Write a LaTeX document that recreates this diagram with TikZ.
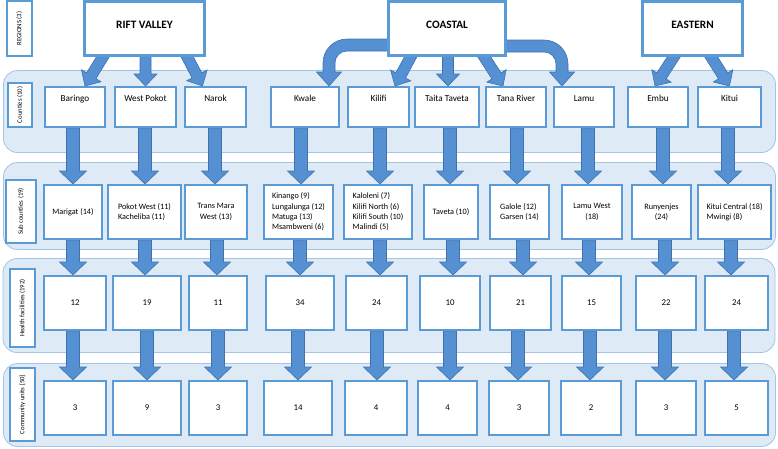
\documentclass[tikz,border=0pt]{standalone}
\usepackage{fontspec}
\setmainfont{Carlito}
\usetikzlibrary{calc}
\pgfdeclarelayer{bg}
\pgfdeclarelayer{mid}
\pgfsetlayers{bg,mid,main}
\definecolor{boxblue}{HTML}{5B9BD5}
\definecolor{arrfill}{HTML}{5590D2}
\definecolor{arredge}{HTML}{3F73AE}
\definecolor{bandfill}{HTML}{DEEBF7}
\definecolor{bandedge}{HTML}{A3C4E6}
\tikzset{
  band/.style={draw=bandedge, fill=bandfill, line width=0.8pt, rounded corners=14pt, minimum width=772pt, inner sep=0pt},
  regbox/.style={draw=boxblue, line width=3pt, fill=white, font=\fontsize{11.3}{13}\selectfont\bfseries, text height=7.5pt, text depth=8.3pt, inner sep=0pt, minimum height=54pt},
  county/.style={draw=boxblue, line width=2pt, fill=white, font=\fontsize{9.2}{11}\selectfont, text height=7pt, text depth=17.6pt, inner sep=0pt, minimum height=40pt},
  subbox/.style={draw=boxblue, line width=2pt, fill=white, font=\fontsize{8.2}{10.3}\selectfont, inner sep=0pt, minimum height=54pt},
  numbox/.style={draw=boxblue, line width=2pt, fill=white, font=\fontsize{8.8}{10}\selectfont, inner sep=0pt, minimum height=54pt},
  lbl/.style={draw=boxblue, line width=2pt, fill=white, rotate=90, font=\fontsize{6.7}{8}\selectfont, inner sep=0pt},
  blockarr/.style={fill=arrfill, draw=arredge, line width=0.6pt, line join=miter},
}
% straight block arrow between two named coordinates
\newcommand\barrow[5]{%
  \coordinate (hb) at ($(#2)!#5!(#1)$);
  \begin{pgfonlayer}{mid}
  \path[blockarr] ($(#1)!#3!90:(#2)$) -- ($(hb)!#3!90:(#2)$) -- ($(hb)!#4!90:(#2)$) -- (#2)
     -- ($(hb)!#4!-90:(#2)$) -- ($(hb)!#3!-90:(#2)$) -- ($(#1)!#3!-90:(#2)$) -- cycle;
  \end{pgfonlayer}}
% region arrow: start spec, end spec
\newcommand\rarr[2]{%
  \coordinate (as) at (#1);
  \coordinate (ae) at (#2);
  \barrow{as}{ae}{5.5pt}{11.5pt}{12pt}}
% vertical arrow: dx, from node, to node
\newcommand\varr[3]{%
  \coordinate (ae) at ($(#3.north)+(#1,0)$);
  \coordinate (as) at (#2.south -| ae);
  \barrow{as}{ae}{6.5pt}{13.5pt}{13pt}}
% curved arrows
\newcommand\curvL[2]{%
  \begin{pgfonlayer}{mid}
  \path[blockarr] let \p1=(#1), \p2=(#2) in
    (\x1,\y1+6pt) -- (\x2+18pt,\y1+6pt)
    .. controls (\x2+4.75pt,\y1+6pt) and (\x2-6pt,\y1-4.75pt) .. (\x2-6pt,\y1-18pt)
    -- (\x2-6pt,\y2+14pt) -- (\x2-12.5pt,\y2+14pt) -- (\x2,\y2) -- (\x2+12.5pt,\y2+14pt) -- (\x2+6pt,\y2+14pt)
    -- (\x2+6pt,\y1-18pt) .. controls (\x2+6pt,\y1-11.37pt) and (\x2+11.37pt,\y1-6pt) .. (\x2+18pt,\y1-6pt)
    -- (\x1,\y1-6pt) -- cycle;
  \end{pgfonlayer}}
\newcommand\curvR[2]{%
  \begin{pgfonlayer}{mid}
  \path[blockarr] let \p1=(#1), \p2=(#2) in
    (\x1,\y1+6pt) -- (\x2-18pt,\y1+6pt)
    .. controls (\x2-4.75pt,\y1+6pt) and (\x2+6pt,\y1-4.75pt) .. (\x2+6pt,\y1-18pt)
    -- (\x2+6pt,\y2+14pt) -- (\x2+12.5pt,\y2+14pt) -- (\x2,\y2) -- (\x2-12.5pt,\y2+14pt) -- (\x2-6pt,\y2+14pt)
    -- (\x2-6pt,\y1-18pt) .. controls (\x2-6pt,\y1-11.37pt) and (\x2-11.37pt,\y1-6pt) .. (\x2-18pt,\y1-6pt)
    -- (\x1,\y1-6pt) -- cycle;
  \end{pgfonlayer}}
\begin{document}
\begin{tikzpicture}[x=1pt,y=-1pt]
\useasboundingbox (0,0) rectangle (778,448);
% bands
\begin{pgfonlayer}{bg}
\node[band, minimum height=82pt] (bandC) at (389.5,111.5) {};
\node[band, minimum height=87pt] (bandS) at (389.5,206) {};
\node[band, minimum height=94pt] (bandH) at (389,305.5) {};
\node[band, minimum height=83pt] (bandU) at (389.5,405) {};
\end{pgfonlayer}
% row labels
\node[lbl, minimum width=55pt, minimum height=25pt] (lR) at (19.5,28.5) {REGIONS (3)};
\node[lbl, minimum width=44pt, minimum height=24pt] (lC) at (20,105) {Counties (10)};
\node[lbl, minimum width=63pt, minimum height=30pt] (lS) at (21,211.5) {Sub counties (19)};
\node[lbl, minimum width=78pt, minimum height=25pt] (lH) at (22.5,308) {Health facilities (192)};
\node[lbl, minimum width=73pt, minimum height=25pt] (lU) at (22.5,404.5) {Community units [50]};
% regions
\node[regbox, minimum width=120pt] (rift) at (144.5,28.5) {RIFT VALLEY};
\node[regbox, minimum width=117pt] (coastal) at (447,28.5) {COASTAL};
\node[regbox, minimum width=100pt] (eastern) at (692.5,28.5) {EASTERN};
% counties
\node[county, minimum width=60pt] (baringo) at (75,107) {Baringo};
\node[county, minimum width=61pt] (westpokot) at (145.5,107) {West Pokot};
\node[county, minimum width=61pt] (narok) at (215.5,107) {Narok};
\node[county, minimum width=68pt] (kwale) at (305,107) {Kwale};
\node[county, minimum width=61pt] (kilifi) at (378.5,107) {Kilifi};
\node[county, minimum width=64pt] (taita) at (447,107) {Taita Taveta};
\node[county, minimum width=60pt] (tana) at (516,107) {Tana River};
\node[county, minimum width=60pt] (lamu) at (584,107) {Lamu};
\node[county, minimum width=60pt] (embu) at (658,107) {Embu};
\node[county, minimum width=63pt] (kitui) at (729.5,107) {Kitui};
% sub counties
\node[subbox, minimum width=58pt] (marigat) at (73,212) {Marigat (14)};
\node[subbox, minimum width=73pt, align=left] (pokotw) at (144.5,212) {Pokot West (11)\\Kacheliba (11)};
\node[subbox, minimum width=62pt, align=center] (transmara) at (216,212) {Trans Mara\\West (13)};
\node[subbox, minimum width=69pt, align=left] (kinango) at (298.5,212) {Kinango (9)\\Lungalunga (12)\\Matuga (13)\\Msambweni (6)};
\node[subbox, minimum width=68pt, align=left] (kaloleni) at (378,212) {Kaloleni (7)\\Kilifi North (6)\\Kilifi South (10)\\Malindi (5)};
\node[subbox, minimum width=54pt] (taveta) at (451,212) {Taveta (10)};
\node[subbox, minimum width=59pt, align=left] (galole) at (519.5,212) {Galole (12)\\Garsen (14)};
\node[subbox, minimum width=60pt, align=center] (lamuw) at (592,212) {Lamu West\\(18)};
\node[subbox, minimum width=59pt, align=center] (runyenjes) at (661.5,212) {Runyenjes\\(24)};
\node[subbox, minimum width=73pt, align=left] (kituic) at (734.5,212) {Kitui Central (18)\\Mwingi (8)};
% health facilities
\node[numbox, minimum width=62pt] (h1) at (75,303) {12};
\node[numbox, minimum width=68pt] (h2) at (147,303) {19};
\node[numbox, minimum width=58pt] (h3) at (218,303) {11};
\node[numbox, minimum width=68pt] (h4) at (300,303) {34};
\node[numbox, minimum width=61pt] (h5) at (376.5,303) {24};
\node[numbox, minimum width=60pt] (h6) at (450,303) {10};
\node[numbox, minimum width=61pt] (h7) at (520.5,303) {21};
\node[numbox, minimum width=59pt] (h8) at (591.5,303) {15};
\node[numbox, minimum width=60pt] (h9) at (666,303) {22};
\node[numbox, minimum width=63pt] (h10) at (736.5,303) {24};
% community units
\node[numbox, minimum width=62pt] (c1) at (75,408) {3};
\node[numbox, minimum width=68pt] (c2) at (147,408) {9};
\node[numbox, minimum width=58pt] (c3) at (218,408) {3};
\node[numbox, minimum width=68pt] (c4) at (298,408) {14};
\node[numbox, minimum width=62pt] (c5) at (376,408) {4};
\node[numbox, minimum width=59pt] (c6) at (447.5,408) {4};
\node[numbox, minimum width=60pt] (c7) at (519,408) {3};
\node[numbox, minimum width=60pt] (c8) at (591,408) {2};
\node[numbox, minimum width=60pt] (c9) at (666,408) {3};
\node[numbox, minimum width=63pt] (c10) at (736.5,408) {5};
% region -> county arrows
\rarr{$(rift.south)+(-39,-4.5)$}{$(baringo.north)+(10,0)$}
\rarr{$(rift.south)+(1,-4.5)$}{$(westpokot.north)+(0,0)$}
\rarr{$(rift.south)+(40.4,-4.5)$}{$(narok.north)+(-13,0)$}
\rarr{$(coastal.south)+(-34,-4.5)$}{$(kilifi.north)+(16.5,0)$}
\rarr{$(coastal.south)+(1,-4.5)$}{$(taita.north)+(1,0)$}
\rarr{$(coastal.south)+(34.4,-4.5)$}{$(tana.north)+(-13,0)$}
\rarr{$(eastern.south)+(-15.9,-4.5)$}{$(embu.north)+(-3,0)$}
\rarr{$(eastern.south)+(15.9,-4.5)$}{$(kitui.north)+(0,0)$}
\coordinate (lc0) at ($(coastal.west)+(6,16.5)$);
\coordinate (lct) at ($(kwale.north)+(24,0)$);
\curvL{lc0}{lct}
\coordinate (rc0) at ($(coastal.east)+(-6,17.5)$);
\coordinate (rct) at ($(lamu.north)+(-22,0)$);
\curvR{rc0}{rct}
% county -> sub county
\varr{0}{baringo}{marigat}
\varr{0.5}{westpokot}{pokotw}
\varr{-1}{narok}{transmara}
\varr{2.5}{kwale}{kinango}
\varr{2}{kilifi}{kaloleni}
\varr{-1}{taita}{taveta}
\varr{-2.5}{tana}{galole}
\varr{-4}{lamu}{lamuw}
\varr{1.5}{embu}{runyenjes}
\varr{-6.5}{kitui}{kituic}
% sub county -> health facilities
\varr{-2}{marigat}{h1}
\varr{-2}{pokotw}{h2}
\varr{-1}{transmara}{h3}
\varr{0}{kinango}{h4}
\varr{3.5}{kaloleni}{h5}
\varr{3}{taveta}{h6}
\varr{2.5}{galole}{h7}
\varr{-2.5}{lamuw}{h8}
\varr{-1}{runyenjes}{h9}
\varr{-5.5}{kituic}{h10}
% health facilities -> community units
\varr{-2}{h1}{c1}
\varr{0}{h2}{c2}
\varr{0}{h3}{c3}
\varr{0}{h4}{c4}
\varr{1}{h5}{c5}
\varr{2.5}{h6}{c6}
\varr{-1}{h7}{c7}
\varr{-1}{h8}{c8}
\varr{-1}{h9}{c9}
\varr{-2.5}{h10}{c10}
\end{tikzpicture}
\end{document}
